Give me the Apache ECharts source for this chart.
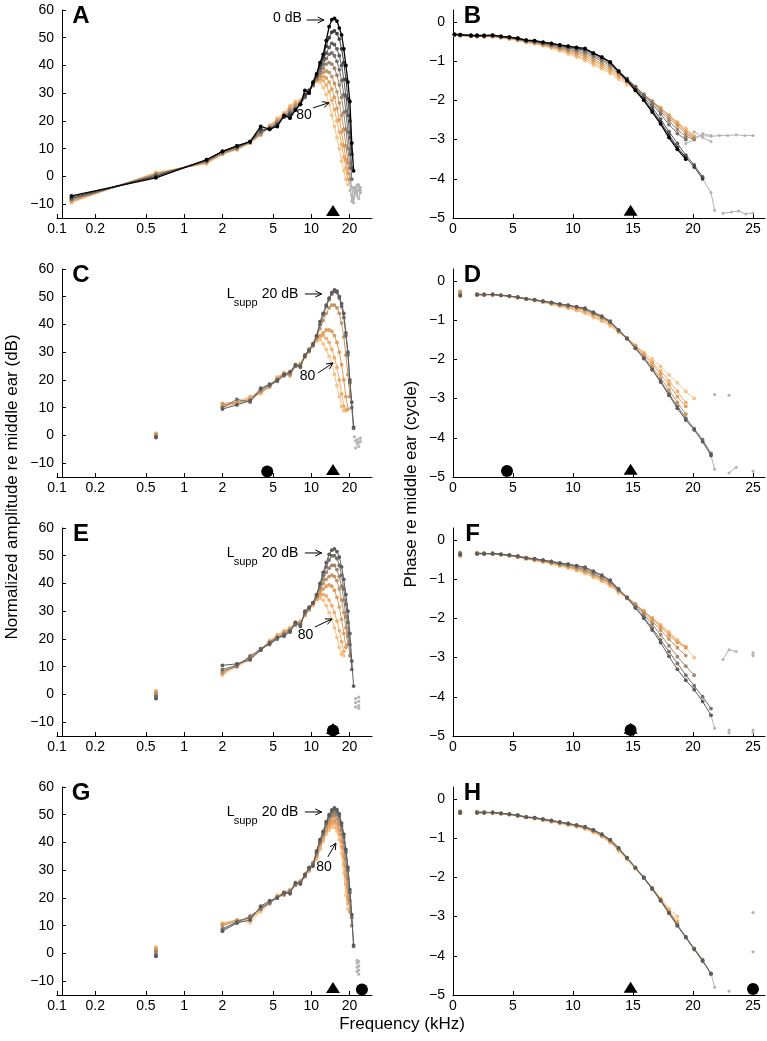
<!DOCTYPE html>
<html><head><meta charset="utf-8">
<script src="https://cdn.jsdelivr.net/npm/echarts@6.0.0/dist/echarts.min.js"></script>
<style>html,body{margin:0;padding:0;background:#fff}#c{width:767px;height:1041px}</style>
</head><body><div id="c"></div>
<script>
// ---------------- DATA ----------------
const FREQ_AB = [0.13, 0.6, 1.5, 2.0, 2.6, 3.3, 4.0, 4.7, 5.4, 6.1, 6.8, 7.5, 8.2, 8.9, 9.6, 10.3, 11.0, 11.7, 12.4, 13.1, 13.8, 14.5, 15.2, 15.9, 16.6, 17.3, 18.0, 18.7, 19.4, 20.1, 20.8, 21.5];
const FREQ = [2.0, 2.6, 3.3, 4.0, 4.7, 5.4, 6.1, 6.8, 7.5, 8.2, 8.9, 9.6, 10.3, 11.0, 11.7, 12.4, 13.1, 13.8, 14.5, 15.2, 15.9, 16.6, 17.3, 18.0, 18.7, 19.4, 20.1, 20.8, 21.5];
const LOW_FREQ = 0.6;

const LEVELS_A = [0, 10, 20, 30, 40, 50, 60, 70, 80];
const AMP_A = [
  [-7, -0.5, 6, 9, 11, 12.5, 18, 17, 18, 22, 21, 24, 26, 31, 30, 34, 37, 41, 44, 49, 54, 56.5, 57, 56, 53.5, 51, 46, 40, 34, 27, 12, 2],
  [-7.5, 0, 6, 9, 11, 12.5, 17, 17, 18.5, 21.5, 22, 24, 26, 29.5, 31, 33.5, 36.5, 40, 43, 47, 50, 52, 52.5, 51.5, 49.5, 46, 41, 35, 28, 20, 8],
  [-8, 0, 5.5, 9, 10.5, 12.5, 16.5, 17, 19, 21.5, 22.5, 24, 26, 29, 31, 33, 36, 39, 42, 44.5, 46.5, 48, 47.5, 46, 43.5, 40, 35, 29, 22, 14, 3],
  [-8, 0.5, 5.5, 8.5, 10.5, 12.5, 16, 17.5, 19, 21.5, 23, 24.5, 26, 28.5, 30.5, 33, 35.5, 38, 40.5, 42.5, 44, 44.5, 43.5, 41.5, 38.5, 34.5, 29.5, 23.5, 16, 8, -1],
  [-8.5, 0.5, 5.5, 8.5, 10, 12.5, 15.5, 17.5, 19.5, 21.5, 23.5, 25, 26, 28.5, 30.5, 33, 35, 37, 39, 40.5, 41, 40.5, 39, 36.5, 33, 28.5, 23, 17, 10, 3],
  [-8.5, 1, 5, 8.5, 10, 12.5, 15.5, 18, 20, 22, 24, 25.5, 26.5, 28.5, 30.5, 33, 35, 36.5, 37.5, 38, 37.5, 36, 33.5, 30.5, 26.5, 22, 17, 11, 5, -1],
  [-9, 1, 5, 8, 10, 12, 15, 18, 20, 22, 24.5, 26, 27, 28.5, 30.5, 33, 34.5, 35.5, 36, 35.5, 34, 31.5, 28.5, 24.5, 20.5, 16, 11, 6, 1],
  [-9, 1, 5, 8, 10, 12, 15, 18, 20.5, 22.5, 25, 26.5, 27, 28.5, 30.5, 33, 34.5, 35, 34.5, 33, 30.5, 27.5, 24, 20, 16, 11.5, 7, 3, -1],
  [-9.5, 1.5, 4.5, 8, 9.5, 12, 15, 18.5, 21, 23, 25.5, 27, 27.5, 28.5, 30.5, 32.5, 34.5, 34, 32, 29.5, 26, 22, 18, 14, 10, 5.5, 2, -1, -3]
];
const A_TAIL_FREQ = [20.1, 20.8, 21.5, 22.2, 22.9, 23.6, 24.3];
const A_TAIL = [
  [-2, -9, -4, -6, -3, -5, -4],
  [-5, -7, -9.5, -4, -7, -3, -6],
  [1, -4, -8, -5, -5.5, -8, -5]
];

const PHASE_B = [
  [-0.32, -0.33, -0.35, -0.35, -0.35, -0.34, -0.37, -0.39, -0.42, -0.47, -0.48, -0.52, -0.55, -0.59, -0.62, -0.65, -0.68, -0.8, -0.9, -1.03, -1.27, -1.5, -1.75, -2.0, -2.3, -2.6, -2.95, -3.25, -3.5],
  [-0.32, -0.33, -0.35, -0.35, -0.35, -0.35, -0.37, -0.39, -0.42, -0.47, -0.49, -0.53, -0.56, -0.6, -0.63, -0.67, -0.7, -0.8, -0.9, -1.02, -1.25, -1.47, -1.72, -1.97, -2.25, -2.55, -2.88, -3.2, -3.45, -3.7, -4.0],
  [-0.33, -0.34, -0.35, -0.35, -0.36, -0.35, -0.38, -0.4, -0.43, -0.48, -0.5, -0.54, -0.57, -0.61, -0.65, -0.69, -0.72, -0.82, -0.92, -1.04, -1.25, -1.45, -1.68, -1.92, -2.18, -2.48, -2.8, -3.1, -3.4, -3.65, -3.95],
  [-0.33, -0.34, -0.35, -0.36, -0.36, -0.36, -0.38, -0.41, -0.44, -0.49, -0.51, -0.55, -0.59, -0.63, -0.67, -0.71, -0.76, -0.86, -0.96, -1.08, -1.27, -1.45, -1.65, -1.87, -2.1, -2.35, -2.62, -2.85, -3.0],
  [-0.33, -0.34, -0.36, -0.36, -0.37, -0.36, -0.39, -0.41, -0.45, -0.5, -0.52, -0.56, -0.6, -0.65, -0.7, -0.75, -0.8, -0.9, -1.0, -1.12, -1.3, -1.47, -1.65, -1.85, -2.05, -2.28, -2.52, -2.75, -2.92, -3.0],
  [-0.33, -0.35, -0.36, -0.37, -0.37, -0.37, -0.39, -0.42, -0.45, -0.5, -0.53, -0.57, -0.62, -0.67, -0.72, -0.78, -0.84, -0.95, -1.05, -1.17, -1.33, -1.5, -1.67, -1.85, -2.03, -2.23, -2.45, -2.65, -2.85, -2.98],
  [-0.33, -0.35, -0.36, -0.37, -0.38, -0.37, -0.4, -0.42, -0.46, -0.51, -0.54, -0.58, -0.63, -0.69, -0.75, -0.82, -0.89, -1.0, -1.1, -1.22, -1.37, -1.52, -1.68, -1.85, -2.02, -2.2, -2.4, -2.6, -2.8, -2.95],
  [-0.33, -0.35, -0.37, -0.37, -0.38, -0.38, -0.4, -0.43, -0.47, -0.52, -0.55, -0.6, -0.65, -0.71, -0.78, -0.86, -0.94, -1.05, -1.15, -1.27, -1.41, -1.55, -1.7, -1.86, -2.02, -2.19, -2.38, -2.57, -2.76, -2.92],
  [-0.34, -0.36, -0.37, -0.38, -0.38, -0.39, -0.41, -0.44, -0.48, -0.53, -0.56, -0.61, -0.67, -0.74, -0.82, -0.9, -0.98, -1.1, -1.2, -1.32, -1.46, -1.6, -1.75, -1.9, -2.05, -2.2, -2.38, -2.55, -2.72, -2.9]
];
const B_TAIL_LINES = [
  [[20.1, -2.95], [20.8, -2.9], [21.5, -2.92], [22.2, -2.9], [22.9, -2.9], [23.6, -2.88], [24.3, -2.9], [25.0, -2.9]],
  [[19.4, -2.95], [20.1, -2.8], [20.8, -2.95], [21.5, -3.05]],
  [[19.4, -3.1], [20.1, -3.0], [20.8, -2.85], [21.5, -2.9]],
  [[20.8, -4.0], [21.5, -4.35], [21.8, -4.8]],
  [[22.5, -4.88], [23.2, -4.85], [23.8, -4.82], [24.4, -4.9], [25.0, -4.87]]
];

const LEVELS_C = [20, 30, 50, 60, 70, 80];
const AMP_C = [
  [9.5, 11, 12.5, 17, 18.5, 20, 22, 23, 25.5, 25, 28.5, 30.5, 33, 36, 41, 44, 47, 49.5, 51.5, 52.5, 52, 50, 47.5, 44, 37, 30, 20, 12, 3],
  [10, 13, 12, 16.5, 18, 19.5, 21.5, 22.5, 25, 24.5, 29, 31, 32.5, 35.5, 40, 43.5, 46.5, 49, 51, 52, 51.5, 49.5, 46.5, 42.5, 36, 29, 19, 10, 2.5],
  [11, 11.5, 13, 16, 18, 20, 22, 22, 25, 25.5, 29, 31, 33, 35.5, 38.5, 41.5, 44, 46, 47, 47, 46, 44, 40.5, 35.5, 29, 22, 14],
  [11.5, 12, 13, 15.5, 17.5, 20.5, 22.5, 22, 25, 25.5, 28.5, 30.5, 32.5, 34.5, 36, 37, 38, 38, 37.5, 36, 33.5, 30, 25.5, 20, 14, 9.5],
  [10.5, 12, 14, 15.5, 17.5, 21, 22, 21.5, 25, 26, 28.5, 30.5, 32.5, 34.5, 35.5, 36, 35, 33.5, 31, 28, 24.5, 20, 15, 10.5, 9],
  [10, 11.5, 13.5, 15, 17.5, 21, 22.5, 21.5, 25, 26, 28, 30, 32, 34, 34.5, 33, 31, 28.5, 26, 22, 18, 14, 10.5, 9, 9]
];
const LOW_C = [-0.8, -0.4, 0, 0.3, 0.6, 0.8];
const C_TAIL_PTS = [[21.8, -0.5], [22.3, -2], [22.3, -4.5], [23.0, -1.5], [23.0, -3], [23.6, -2.5], [23.6, -4], [24.3, -1], [24.3, -2.2]];

const PHASE_D = [
  [-0.36, -0.36, -0.35, -0.37, -0.39, -0.42, -0.46, -0.48, -0.52, -0.55, -0.59, -0.62, -0.66, -0.7, -0.8, -0.9, -1.03, -1.25, -1.47, -1.72, -1.98, -2.27, -2.58, -2.92, -3.25, -3.55, -3.8, -4.1, -4.45],
  [-0.35, -0.35, -0.35, -0.37, -0.39, -0.42, -0.46, -0.49, -0.52, -0.56, -0.6, -0.63, -0.67, -0.72, -0.82, -0.92, -1.05, -1.27, -1.48, -1.72, -1.97, -2.25, -2.55, -2.88, -3.2, -3.5, -3.77, -4.05, -4.4],
  [-0.35, -0.35, -0.35, -0.37, -0.39, -0.42, -0.46, -0.49, -0.53, -0.56, -0.61, -0.64, -0.68, -0.74, -0.84, -0.94, -1.06, -1.27, -1.46, -1.69, -1.93, -2.2, -2.48, -2.78, -3.1, -3.4],
  [-0.34, -0.35, -0.35, -0.37, -0.39, -0.42, -0.46, -0.49, -0.53, -0.57, -0.62, -0.66, -0.7, -0.76, -0.86, -0.96, -1.08, -1.27, -1.45, -1.65, -1.88, -2.12, -2.38, -2.65, -2.95, -3.2],
  [-0.34, -0.35, -0.36, -0.37, -0.4, -0.43, -0.47, -0.5, -0.54, -0.59, -0.64, -0.69, -0.74, -0.8, -0.9, -1.0, -1.12, -1.3, -1.47, -1.65, -1.85, -2.07, -2.3, -2.55, -2.82, -3.1],
  [-0.34, -0.35, -0.36, -0.37, -0.4, -0.43, -0.47, -0.51, -0.55, -0.6, -0.65, -0.7, -0.76, -0.83, -0.93, -1.03, -1.15, -1.32, -1.48, -1.64, -1.82, -1.99, -2.18, -2.4, -2.6, -2.82, -3.0]
];
const LOW_D = [-0.38, -0.36, -0.3, -0.28, -0.3, -0.27];
const D_TAIL_LINES = [[[21.5, -4.45], [21.8, -4.8]], [[23.0, -4.9], [23.6, -4.75]]];
const D_TAIL_PTS = [[21.8, -2.9], [23.0, -2.92], [25.0, -4.85]];

const LEVELS_E = [20, 30, 40, 50, 60, 70, 80];
const AMP_E = [
  [10.5, 11, 12.5, 16, 18.5, 20.5, 21, 22.5, 26, 24.5, 30, 31.5, 33, 36, 40, 44, 47.5, 50.5, 52, 52.5, 51.5, 49.5, 46, 41.5, 36, 30, 22, 12, 3],
  [9, 10.5, 13.5, 16.5, 18, 20, 21.5, 23, 25.5, 25, 29.5, 31, 33, 35.5, 39.5, 43, 46, 48.5, 50, 50, 49, 46.5, 43, 38, 32.5, 26, 18, 9],
  [8.5, 10, 14, 16, 18.5, 20, 22, 23, 25, 25.5, 29, 31, 33, 35.5, 38.5, 41.5, 44, 45.5, 46.5, 46.5, 45, 42.5, 39, 34, 28, 21, 14],
  [8, 10.5, 13.5, 16.5, 19, 20.5, 22, 23.5, 25.5, 25.5, 29, 31, 33, 35, 37.5, 40, 41.5, 42.5, 43, 42.5, 41, 38, 34, 29.5, 24, 18],
  [7.5, 11, 13, 16, 19, 21, 22.5, 23.5, 25.5, 26, 28.5, 30.5, 32.5, 34.5, 36.5, 38, 39, 39.5, 39, 37.5, 35, 31.5, 27, 22, 17],
  [7.5, 10.5, 13, 16.5, 19, 21, 22.5, 24, 26, 26, 28.5, 30.5, 32.5, 34.5, 35.5, 36, 35.5, 34, 32, 29.5, 26.5, 23, 19, 15.5],
  [7, 10, 12.5, 16, 19.5, 21.5, 23, 24, 26, 26.5, 28.5, 30.5, 32, 34, 34.5, 34, 32, 29.5, 27, 24, 20.5, 17, 14.5, 14]
];
const LOW_E = [-1.5, -0.8, -0.3, 0.3, 0.8, 1.2, 0.5];
const E_TAIL_PTS = [[22.3, -1.5], [22.3, -3], [22.3, -4.5], [23.6, -1], [23.6, -2.5], [23.6, -4], [23.6, -5]];

const PHASE_F = [
  [-0.36, -0.36, -0.35, -0.37, -0.39, -0.42, -0.46, -0.48, -0.52, -0.55, -0.59, -0.62, -0.66, -0.7, -0.8, -0.9, -1.03, -1.25, -1.48, -1.74, -2.0, -2.3, -2.62, -2.97, -3.3, -3.58, -3.82, -4.12, -4.47],
  [-0.35, -0.35, -0.35, -0.37, -0.39, -0.42, -0.46, -0.49, -0.52, -0.56, -0.6, -0.63, -0.67, -0.72, -0.82, -0.92, -1.05, -1.27, -1.48, -1.72, -1.97, -2.25, -2.55, -2.85, -3.15, -3.45, -3.72, -4.0, -4.3],
  [-0.35, -0.35, -0.35, -0.37, -0.4, -0.43, -0.47, -0.5, -0.53, -0.57, -0.62, -0.65, -0.7, -0.76, -0.86, -0.96, -1.08, -1.28, -1.47, -1.68, -1.9, -2.15, -2.42, -2.7, -2.98, -3.22, -3.45],
  [-0.34, -0.35, -0.36, -0.37, -0.4, -0.43, -0.47, -0.5, -0.54, -0.58, -0.63, -0.67, -0.72, -0.78, -0.88, -0.98, -1.1, -1.29, -1.46, -1.65, -1.85, -2.07, -2.3, -2.53, -2.75, -2.95],
  [-0.34, -0.35, -0.36, -0.38, -0.4, -0.43, -0.48, -0.51, -0.55, -0.59, -0.64, -0.69, -0.74, -0.8, -0.9, -1.0, -1.12, -1.3, -1.46, -1.63, -1.82, -2.02, -2.22, -2.43, -2.62, -2.75],
  [-0.34, -0.35, -0.36, -0.38, -0.41, -0.44, -0.48, -0.52, -0.56, -0.6, -0.65, -0.7, -0.76, -0.83, -0.93, -1.03, -1.15, -1.32, -1.48, -1.64, -1.82, -2.0, -2.18, -2.38, -2.58, -2.72],
  [-0.34, -0.35, -0.36, -0.38, -0.41, -0.44, -0.49, -0.53, -0.57, -0.62, -0.67, -0.72, -0.79, -0.86, -0.96, -1.06, -1.18, -1.35, -1.5, -1.65, -1.82, -1.98, -2.16, -2.35, -2.55, -2.75, -3.0]
];
const LOW_F = [-0.38, -0.36, -0.34, -0.33, -0.35, -0.4, -0.42];
const F_TAIL_LINES = [[[21.5, -4.47], [21.8, -4.8]], [[22.5, -3.05], [23.0, -2.8], [23.6, -2.85]]];
const F_TAIL_PTS = [[25.0, -2.88], [25.0, -2.95], [23.0, -4.85], [23.0, -4.92], [25.0, -4.85], [25.0, -4.92]];

const LEVELS_G = [20, 30, 40, 50, 60, 70, 80];
const AMP_G = [
  [8, 11, 12, 17, 19, 20, 22, 21.5, 25.5, 25, 28, 31, 31.5, 37, 41, 44, 47.5, 50, 51.7, 52.5, 51.8, 50.3, 47, 43, 37.5, 31, 23, 14, 3],
  [8.5, 11.5, 13, 16.5, 18.5, 20, 21.5, 22, 25, 25.5, 28.5, 30.5, 32, 36.5, 40.5, 43.5, 47, 49.5, 51, 51.8, 51, 49.5, 46, 42, 36.5, 30, 22, 13, 2.5],
  [9, 11, 13.5, 16, 18, 20.5, 21.5, 22.5, 25, 25.5, 28.5, 30.5, 32.5, 36, 40, 43, 46.5, 48.5, 50, 50.5, 50, 48, 44.5, 40, 34, 27, 19, 10],
  [10, 11.5, 13, 16.5, 18, 20.5, 21, 22.5, 24.5, 26, 28.5, 30.5, 32.5, 35.5, 39.5, 42.5, 45.5, 47.5, 49, 49.5, 48.5, 46.5, 43, 38, 31.5, 24, 15],
  [10.5, 12, 12.5, 16, 18.5, 20, 21.5, 22.5, 25, 26, 28, 30, 32.5, 35, 39, 42, 44.5, 46.5, 47.5, 48, 47, 44.5, 40.5, 35, 28, 20],
  [10.5, 12, 12, 15.5, 18.5, 20.5, 22, 23, 25, 26, 28, 30, 32, 34.5, 38, 41, 44, 45.5, 46.5, 47, 45.5, 43, 38.5, 32, 25, 18],
  [11, 12, 11, 15, 18, 21, 22, 23, 24.5, 26, 27.5, 29.5, 31.5, 34, 37.5, 40.5, 43, 44.5, 45.5, 45.5, 44, 41, 36, 29, 21, 16]
];
const LOW_G = [-1, -0.5, 0.5, 1, 1.5, 2, 2.2];
const G_TAIL_PTS = [[22.9, -2.5], [22.9, -3.5], [22.9, -5], [22.9, -6.5], [23.6, -3], [23.6, -4.5], [23.6, -6], [23.6, -7.5]];

const LEVELS_H = [20, 30, 40, 60, 70, 80];
const PHASE_H = [
  [-0.36, -0.36, -0.35, -0.37, -0.39, -0.42, -0.47, -0.48, -0.52, -0.55, -0.59, -0.63, -0.67, -0.71, -0.79, -0.9, -1.04, -1.25, -1.5, -1.75, -2.0, -2.28, -2.58, -2.9, -3.22, -3.52, -3.82, -4.12, -4.45],
  [-0.35, -0.35, -0.35, -0.37, -0.39, -0.42, -0.46, -0.48, -0.52, -0.56, -0.6, -0.63, -0.67, -0.72, -0.8, -0.91, -1.05, -1.26, -1.5, -1.76, -2.02, -2.3, -2.6, -2.92, -3.24, -3.54, -3.84, -4.14, -4.47],
  [-0.35, -0.35, -0.35, -0.37, -0.4, -0.43, -0.47, -0.49, -0.53, -0.56, -0.6, -0.64, -0.68, -0.73, -0.81, -0.92, -1.06, -1.27, -1.51, -1.76, -2.02, -2.3, -2.6, -2.92, -3.23, -3.52, -3.82, -4.1],
  [-0.34, -0.34, -0.36, -0.38, -0.4, -0.43, -0.47, -0.5, -0.53, -0.57, -0.61, -0.65, -0.69, -0.74, -0.83, -0.94, -1.08, -1.29, -1.52, -1.76, -2.02, -2.29, -2.58, -2.88, -3.18],
  [-0.33, -0.34, -0.36, -0.38, -0.4, -0.44, -0.47, -0.5, -0.54, -0.58, -0.62, -0.66, -0.7, -0.75, -0.84, -0.95, -1.1, -1.31, -1.53, -1.77, -2.02, -2.28, -2.56, -2.85, -3.12],
  [-0.32, -0.33, -0.36, -0.38, -0.41, -0.44, -0.48, -0.51, -0.55, -0.59, -0.63, -0.67, -0.72, -0.77, -0.86, -0.97, -1.12, -1.33, -1.55, -1.78, -2.02, -2.27, -2.53, -2.8, -3.0]
];
const LOW_H = [-0.36, -0.34, -0.33, -0.32, -0.35, -0.37];
const H_TAIL_LINES = [[[21.5, -4.45], [21.8, -4.8]]];
const H_TAIL_PTS = [[23.0, -4.9], [25.0, -2.9], [25.0, -3.9]];

// probe-tone (triangle) and suppressor (circle) frequencies per panel
const TRIANGLE_FREQ = 14.8;
const CIRCLE_FREQ = [null, null, 4.5, 4.5, 14.8, 14.8, 25.0, 25.0];

// tick values
const X_TICKS_LOG = [0.1, 0.2, 0.5, 1, 2, 5, 10, 20];
const X_TICKS_LIN = [0, 5, 10, 15, 20, 25];
const Y_TICKS_AMP = [-10, 0, 10, 20, 30, 40, 50, 60];
const Y_TICKS_PHASE = [-5, -4, -3, -2, -1, 0];

// text annotations (data coordinates)
const PANEL_LETTERS = ['A', 'B', 'C', 'D', 'E', 'F', 'G', 'H'];
const NOTE_TEXT = [
  {grid: 0, text: '0 dB', at: [8.43, 57.1], align: 'right'},
  {grid: 0, text: '80', at: [8.75, 22.1], align: 'center'},
  {grid: 2, text: '80', at: [9.32, 21.4], align: 'center'},
  {grid: 4, text: '80', at: [8.99, 21.4], align: 'center'},
  {grid: 6, text: '80', at: [12.56, 31.2], align: 'center'}
];
const NOTE_ARROWS = [
  {grid: 0, from: [9.18, 56.4], to: [12.56, 56.4]},
  {grid: 0, from: [10.3, 24.7], to: [13.8, 26.6]},
  {grid: 2, from: [8.9, 51], to: [12.05, 51]},
  {grid: 2, from: [11.27, 22.5], to: [14.8, 26.1]},
  {grid: 4, from: [8.9, 51], to: [12.05, 51]},
  {grid: 4, from: [10.67, 24.3], to: [14.5, 27.2]},
  {grid: 6, from: [8.9, 51], to: [12.05, 51]},
  {grid: 6, from: [13.5, 34.8], to: [15.6, 39.8]}
];
const LSUPP_GRIDS = [2, 4, 6];
const LSUPP_AT = [2.16, 51];

// ---------------- STYLE / LAYOUT ----------------
const FONT = "'Liberation Sans', Arial, Helvetica, sans-serif";
const LEVEL_COLOR = {0: '#000000', 10: '#3d3d3d', 20: '#5c5c5c', 30: '#777069', 40: '#9c8670', 50: '#c59566', 60: '#e09e5f', 70: '#efae6c', 80: '#f7c388'};
const TAIL_COLOR = '#b3b3b3';
const ROW_TOP = [10, 269, 528, 787];
const PANEL_H = 208;

function fmt(v) {
  const n = +Number(v).toPrecision(4);
  return n < 0 ? '\u2212' + String(-n) : String(n);
}

const grids = [], xAxes = [], yAxes = [];
for (let p = 0; p < 8; p++) {
  const row = Math.floor(p / 2), left = p % 2 === 0;
  grids.push(left ? {left: 57, top: ROW_TOP[row], width: 315, height: PANEL_H}
                  : {left: 453, top: ROW_TOP[row], width: 312, height: PANEL_H});
  const xt = left ? X_TICKS_LOG : X_TICKS_LIN;
  xAxes.push({
    gridIndex: p,
    type: left ? 'log' : 'value',
    logBase: 10,
    min: left ? 0.1 : 0,
    max: left ? 30 : 26,
    axisLine: {show: true, onZero: false, lineStyle: {color: '#000', width: 1}},
    axisTick: {show: true, inside: true, length: 4, lineStyle: {color: '#000'}, customValues: xt},
    axisLabel: {show: true, customValues: xt, formatter: fmt, color: '#000', fontSize: 14, fontFamily: FONT, margin: 4},
    splitLine: {show: false}
  });
  const yt = left ? Y_TICKS_AMP : Y_TICKS_PHASE;
  yAxes.push({
    gridIndex: p,
    type: 'value',
    min: left ? -15 : -5,
    max: left ? 60 : 0.3,
    offset: left ? -5 : 0,
    axisLine: {show: true, onZero: false, lineStyle: {color: '#000', width: 1}},
    axisTick: {show: true, inside: true, length: 4, lineStyle: {color: '#000'}, customValues: yt},
    axisLabel: {show: true, customValues: yt, formatter: fmt, color: '#000', fontSize: 14, fontFamily: FONT, margin: 8},
    splitLine: {show: false}
  });
}

const series = [];
function addCurves(p, freq, levels, curves) {
  for (let i = levels.length - 1; i >= 0; i--) {
    const lv = levels[i];
    const col = LEVEL_COLOR[lv];
    series.push({
      type: 'line', xAxisIndex: p, yAxisIndex: p, silent: true,
      data: curves[i].map((v, k) => [freq[k], v]),
      symbol: 'circle', symbolSize: 3.8, showSymbol: true,
      lineStyle: {width: lv === 0 ? 1.3 : 1, color: col},
      itemStyle: {color: col, opacity: 1},
      z: 10 + (80 - lv) / 10
    });
  }
}
function addLow(p, levels, vals) {
  for (let i = levels.length - 1; i >= 0; i--) {
    series.push({type: 'scatter', xAxisIndex: p, yAxisIndex: p, silent: true,
      data: [[LOW_FREQ, vals[i]]], symbol: 'circle', symbolSize: 4,
      itemStyle: {color: LEVEL_COLOR[levels[i]], opacity: 1}, z: 10 + (80 - levels[i]) / 10});
  }
}
function addTailLines(p, lines) {
  lines.forEach(l => series.push({type: 'line', xAxisIndex: p, yAxisIndex: p, silent: true,
    data: l, symbol: 'circle', symbolSize: 3, showSymbol: true,
    lineStyle: {width: 1, color: TAIL_COLOR}, itemStyle: {color: TAIL_COLOR, opacity: 1}, z: 5}));
}
function addTailPts(p, pts) {
  series.push({type: 'scatter', xAxisIndex: p, yAxisIndex: p, silent: true,
    data: pts, symbol: 'circle', symbolSize: 3.2, itemStyle: {color: TAIL_COLOR, opacity: 1}, z: 5});
}

// A
addTailLines(0, A_TAIL.map(t => t.map((v, k) => [A_TAIL_FREQ[k], v])));
addCurves(0, FREQ_AB, LEVELS_A, AMP_A);
// B
addTailLines(1, B_TAIL_LINES);
addCurves(1, FREQ_AB, LEVELS_A, PHASE_B);
// C
addTailPts(2, C_TAIL_PTS);
addLow(2, LEVELS_C, LOW_C);
addCurves(2, FREQ, LEVELS_C, AMP_C);
// D
addTailLines(3, D_TAIL_LINES); addTailPts(3, D_TAIL_PTS);
addLow(3, LEVELS_C, LOW_D);
addCurves(3, FREQ, LEVELS_C, PHASE_D);
// E
addTailPts(4, E_TAIL_PTS);
addLow(4, LEVELS_E, LOW_E);
addCurves(4, FREQ, LEVELS_E, AMP_E);
// F
addTailLines(5, F_TAIL_LINES); addTailPts(5, F_TAIL_PTS);
addLow(5, LEVELS_E, LOW_F);
addCurves(5, FREQ, LEVELS_E, PHASE_F);
// G
addTailPts(6, G_TAIL_PTS);
addLow(6, LEVELS_G, LOW_G);
addCurves(6, FREQ, LEVELS_G, AMP_G);
// H
addTailLines(7, H_TAIL_LINES); addTailPts(7, H_TAIL_PTS);
addLow(7, LEVELS_H, LOW_H);
addCurves(7, FREQ, LEVELS_H, PHASE_H);

// markers
for (let p = 0; p < 8; p++) {
  const left = p % 2 === 0;
  if (CIRCLE_FREQ[p] !== null) {
    series.push({type: 'scatter', xAxisIndex: p, yAxisIndex: p, silent: true,
      data: [[CIRCLE_FREQ[p], left ? -13 : -4.85]], symbol: 'circle', symbolSize: 12,
      itemStyle: {color: '#000', opacity: 1}, z: 30});
  }
  series.push({type: 'scatter', xAxisIndex: p, yAxisIndex: p, silent: true,
    data: [[TRIANGLE_FREQ, left ? -12.3 : -4.8]], symbol: 'triangle', symbolSize: [14, 11],
    itemStyle: {color: '#000', opacity: 1}, z: 31});
}

const chart = echarts.init(document.getElementById('c'), null, {renderer: 'canvas'});
chart.setOption({
  animation: false,
  backgroundColor: '#fff',
  textStyle: {fontFamily: FONT},
  grid: grids, xAxis: xAxes, yAxis: yAxes, series: series
});

// ---------------- ANNOTATIONS ----------------
const g = [];
PANEL_LETTERS.forEach((L, p) => {
  const row = Math.floor(p / 2), left = p % 2 === 0;
  g.push({type: 'text', x: left ? 81 : 472.5, y: ROW_TOP[row] + 6.5, z: 100,
    style: {text: L, fontSize: 24, fontWeight: 'bold', fontFamily: FONT, fill: '#000', textAlign: 'center', textVerticalAlign: 'middle'}});
});
g.push({type: 'text', x: 12.5, y: 487, rotation: Math.PI / 2, z: 100,
  style: {text: 'Normalized amplitude re middle ear (dB)', fontSize: 17, fontFamily: FONT, fill: '#000', textAlign: 'center', textVerticalAlign: 'middle'}});
g.push({type: 'text', x: 411, y: 484, rotation: Math.PI / 2, z: 100,
  style: {text: 'Phase re middle ear (cycle)', fontSize: 17, fontFamily: FONT, fill: '#000', textAlign: 'center', textVerticalAlign: 'middle'}});
g.push({type: 'text', x: 402, y: 1024, z: 100,
  style: {text: 'Frequency (kHz)', fontSize: 17, fontFamily: FONT, fill: '#000', textAlign: 'center', textVerticalAlign: 'middle'}});

NOTE_TEXT.forEach(n => {
  const pt = chart.convertToPixel({gridIndex: n.grid}, n.at);
  g.push({type: 'text', x: pt[0], y: pt[1], z: 100,
    style: {text: n.text, fontSize: 14, fontFamily: FONT, fill: '#000', textAlign: n.align, textVerticalAlign: 'middle'}});
});
LSUPP_GRIDS.forEach(gi => {
  const pt = chart.convertToPixel({gridIndex: gi}, LSUPP_AT);
  g.push({type: 'text', x: pt[0], y: pt[1], z: 100,
    style: {text: 'L', fontSize: 14, fontFamily: FONT, fill: '#000', textAlign: 'left', textVerticalAlign: 'middle'}});
  g.push({type: 'text', x: pt[0] + 7, y: pt[1] + 9, z: 100,
    style: {text: 'supp', fontSize: 11, fontFamily: FONT, fill: '#000', textAlign: 'left', textVerticalAlign: 'middle'}});
  g.push({type: 'text', x: pt[0] + 35, y: pt[1], z: 100,
    style: {text: '20 dB', fontSize: 14, fontFamily: FONT, fill: '#000', textAlign: 'left', textVerticalAlign: 'middle'}});
});
NOTE_ARROWS.forEach(a => {
  const p1 = chart.convertToPixel({gridIndex: a.grid}, a.from);
  const p2 = chart.convertToPixel({gridIndex: a.grid}, a.to);
  const ang = Math.atan2(p2[1] - p1[1], p2[0] - p1[0]);
  const L = 7, al = 0.45;
  g.push({type: 'line', z: 100, shape: {x1: p1[0], y1: p1[1], x2: p2[0], y2: p2[1]}, style: {stroke: '#000', lineWidth: 1}});
  g.push({type: 'polyline', z: 100, shape: {points: [
    [p2[0] - L * Math.cos(ang - al), p2[1] - L * Math.sin(ang - al)],
    [p2[0], p2[1]],
    [p2[0] - L * Math.cos(ang + al), p2[1] - L * Math.sin(ang + al)]
  ]}, style: {stroke: '#000', lineWidth: 1, fill: null}});
});
chart.setOption({graphic: g});
</script></body></html>
